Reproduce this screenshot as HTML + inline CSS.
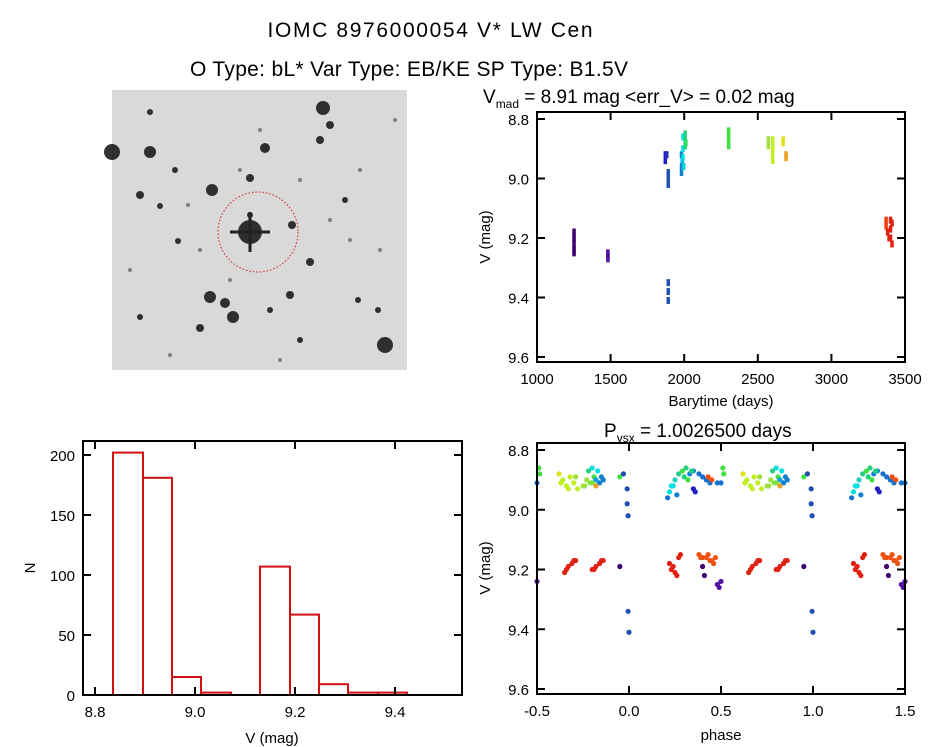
<!DOCTYPE html>
<html><head><meta charset="utf-8"><style>
html,body{margin:0;padding:0;background:#fff;}
svg{display:block;font-family:"Liberation Sans",sans-serif;}
</style></head><body>
<svg id="fig" width="944" height="747" viewBox="0 0 944 747" xmlns="http://www.w3.org/2000/svg">
<text x="430" y="37" font-size="21" text-anchor="middle" textLength="325">IOMC 8976000054    V* LW Cen</text>
<text x="409" y="76" font-size="21" text-anchor="middle" textLength="438">O Type: bL*  Var Type: EB/KE  SP Type: B1.5V</text>
<g id="img">
<rect x="112" y="90" width="295" height="280" fill="#d9d9d9"/>
</g>
<g id="lc"></g>
<g id="hist"></g>
<g id="ph"></g>
</svg>
<script>
const NS="http://www.w3.org/2000/svg";
function mk(p,tag,attrs,txt){const e=document.createElementNS(NS,tag);for(const k in attrs)e.setAttribute(k,attrs[k]);if(txt!==undefined)e.textContent=txt;p.appendChild(e);return e;}

// ---- sky image stars ----
const starX=[323,150,265,212,250,330,175,250,210,225,233,310,320,290,385,140,160,292,140,200,150,178,250,345,358,378,300,270,112,188,200,240,300,330,360,380,130,170,280,350,395,260,230];
const starY=[108,152,148,190,178,125,170,232,297,303,317,262,140,295,345,195,206,225,317,328,112,241,215,200,300,310,340,310,152,205,250,170,180,220,170,250,270,355,360,240,120,130,280];
const starR=[7,6,5,6,4,4,3,12,6,5,6,4,4,4,8,4,3,4,3,4,3,3,3,3,3,3,3,3,8,2,2,2,2,2,2,2,2,2,2,2,2,2,2];
const img=document.getElementById('img');
for(let i=0;i<starX.length;i++){
  const c=mk(img,'circle',{cx:starX[i],cy:starY[i],r:starR[i],fill:'#111',opacity:i<29?0.85:0.45});
  
  
}
mk(img,'line',{x1:230,y1:232,x2:270,y2:232,stroke:'#222','stroke-width':3});
mk(img,'line',{x1:250,y1:212,x2:250,y2:252,stroke:'#222','stroke-width':3});
const circ=mk(img,'circle',{cx:258,cy:232,r:40,fill:'none',stroke:'#d02020','stroke-width':1,'stroke-dasharray':'1.5,2'});



// ---- light curve data ----
const lcT=[1250,1250,1250,1250,1250,1480,1480,1480,1870,1870,1880,1890,1890,1890,1890,1890,1890,1980,1980,1980,1985,1990,1990,1990,1995,2005,2005,2005,2010,2300,2300,2300,2300,2570,2570,2600,2600,2600,2600,2600,2670,2670,2690,2690,3370,3370,3380,3390,3400,3400,3400,3410,3410];
const lcV=[9.18,9.20,9.22,9.24,9.25,9.25,9.26,9.27,8.92,8.94,8.92,8.98,9.00,9.02,9.35,9.38,9.41,8.92,8.96,8.98,8.94,8.86,8.90,8.93,8.96,8.85,8.87,8.89,8.88,8.84,8.86,8.88,8.89,8.87,8.89,8.87,8.89,8.91,8.93,8.94,8.87,8.88,8.92,8.93,9.14,9.16,9.18,9.20,9.14,9.17,9.20,9.22,9.15];
const lcC=['#400070','#400070','#400070','#400070','#400070','#5010a0','#5010a0','#5010a0','#2020c0','#2020c0','#2030c0','#2050b0','#2050b0','#2050b0','#2050b0','#2050b0','#2050b0','#1080d0','#1080d0','#1080d0','#10a0e0','#00e0e0','#00e0e0','#00e0e0','#00d0e0','#20d080','#20d080','#20d080','#30e060','#40e040','#40e040','#40e040','#40e040','#a0e040','#a0e040','#c0f020','#c0f020','#c0f020','#c0f020','#c0f020','#e0e020','#e0e020','#f0a020','#f0a020','#f04010','#f04010','#e02010','#e02010','#e02010','#e02010','#e02010','#e02010','#e02010'];
const lcXTicks=[1000,1500,2000,2500,3000,3500];
const magTicks=[8.8,9.0,9.2,9.4,9.6];

// ---- histogram data ----
const histEdges=[8.836,8.896,8.954,9.012,9.072,9.130,9.190,9.248,9.306,9.366,9.424];
const histCounts=[202,181,15,2,0,107,67,9,2,2];
const histXTicks=[8.8,9.0,9.2,9.4];
const histYTicks=[0,50,100,150,200];

// ---- phase data (phase in [0,1)) ----
const phP=[0.51,0.515,0.50,0.62,0.64,0.66,0.68,0.70,0.72,0.75,0.77,0.79,0.81,0.78,0.80,0.82,0.84,0.86,0.82,0.95,0.97,0.99,0.99,0.995,0.995,1.0,0.21,0.22,0.23,0.25,0.27,0.29,0.31,0.33,0.35,0.38,0.40,0.42,0.44,0.48,0.65,0.67,0.69,0.71,0.80,0.82,0.84,0.86,0.95,0.22,0.24,0.25,0.27,0.28,0.38,0.40,0.42,0.44,0.46,0.40,0.41,0.48,0.49,0.50,0.35,0.36,0.63,0.67,0.71,0.76,0.80,0.83,0.85,0.24,0.26,0.30,0.32,0.34,0.43,0.45,0.66,0.70,0.81,0.85,0.23,0.26,0.39,0.43,0.45,0.47];
const phV=[8.86,8.88,8.91,8.88,8.90,8.92,8.89,8.91,8.93,8.92,8.90,8.91,8.89,8.87,8.86,8.90,8.91,8.90,8.92,8.89,8.88,8.93,8.98,9.02,9.34,9.41,8.96,8.94,8.92,8.90,8.88,8.87,8.86,8.88,8.87,8.88,8.89,8.90,8.91,8.91,9.21,9.19,9.18,9.17,9.20,9.19,9.18,9.17,9.19,9.18,9.19,9.21,9.16,9.15,9.15,9.16,9.16,9.17,9.18,9.19,9.22,9.25,9.26,9.24,8.93,8.94,8.91,8.93,8.89,8.92,8.91,8.87,8.89,8.92,8.95,8.89,8.90,8.87,8.89,8.90,9.20,9.17,9.20,9.17,9.20,9.22,9.16,9.15,9.17,9.16];
const phC=['#40e040','#40e040','#1870d0','#e0e020','#c0f020','#c0f020','#c0f020','#c0f020','#c0f020','#a0e040','#a0e040','#80e040','#40e040','#20d080','#00e0e0','#10a0e0','#1080d0','#1080d0','#f0a020','#40e040','#2050b0','#2050b0','#2050b0','#2050b0','#2050b0','#2050b0','#1870d0','#00e0e0','#00e0e0','#20d0c0','#20d080','#40e040','#20d080','#1080d0','#1080d0','#1870d0','#1870d0','#1870d0','#1870d0','#1870d0','#e02010','#e02010','#e02010','#e02010','#e02010','#e02010','#e02010','#e02010','#400070','#e02010','#e02010','#e02010','#e02010','#e02010','#f05010','#f05010','#f05010','#f05010','#f05010','#400070','#400070','#5010a0','#5010a0','#5010a0','#2020c0','#2020c0','#c0f020','#c0f020','#a0e040','#a0e040','#80e040','#00e0e0','#1080d0','#00e0e0','#1080d0','#20d080','#40e040','#20d080','#f05010','#f05010','#e02010','#e02010','#e02010','#e02010','#e02010','#e02010','#f05010','#f05010','#f05010','#f05010'];
const phXTicks=[-0.5,0,0.5,1.0,1.5];

function axesBox(g,x0,y0,x1,y1,name){
  const r=mk(g,'rect',{x:x0,y:y0,width:x1-x0,height:y1-y0,fill:'none',stroke:'#000','stroke-width':2});
  
  
}
function yTicks(g,ticks,fy,x0,x1,fmt,name){
  ticks.forEach(t=>{const y=fy(t);
    mk(g,'line',{x1:x0,y1:y,x2:x0+8,y2:y,stroke:'#000','stroke-width':2});
    mk(g,'line',{x1:x1,y1:y,x2:x1-8,y2:y,stroke:'#000','stroke-width':2});
    const l=mk(g,'text',{x:x0-8,y:y+6,'font-size':15,'text-anchor':'end'},fmt(t));
    
    
  });
}
function xTicks(g,ticks,fx,y0,y1,fmt,name){
  ticks.forEach(t=>{const x=fx(t);
    mk(g,'line',{x1:x,y1:y1,x2:x,y2:y1-8,stroke:'#000','stroke-width':2});
    mk(g,'line',{x1:x,y1:y0,x2:x,y2:y0+8,stroke:'#000','stroke-width':2});
    const l=mk(g,'text',{x:x,y:y1+22,'font-size':15,'text-anchor':'middle'},fmt(t));
    
    
  });
}

// light curve panel
(function(){
  const g=document.getElementById('lc');
  const X0=537,X1=905,Y0=112,Y1=362;
  const fx=t=>X0+(t-1000)*(X1-X0)/2500;
  const fy=v=>119+(v-8.8)*(357-119)/0.8;
  lcT.forEach((t,i)=>{
    const r=mk(g,'rect',{x:fx(t)-1.5,y:fy(lcV[i])-3.5,width:3.5,height:7,fill:lcC[i]});
    
    
  });
  axesBox(g,X0,Y0,X1,Y1,'lc-axes');
  yTicks(g,magTicks,fy,X0,X1,v=>v.toFixed(1),'lc-y-tick-label');
  xTicks(g,lcXTicks,fx,Y0,Y1,v=>String(v),'lc-x-tick-label');
  const t=mk(g,'text',{x:483,y:103,'font-size':19});
  t.innerHTML='V<tspan font-size="12" dy="5">mad</tspan><tspan dy="-5"> = 8.91 mag &lt;err_V&gt; = 0.02 mag</tspan>';
  
  
  const xl=mk(g,'text',{x:721,y:406,'font-size':15,'text-anchor':'middle'},'Barytime (days)');
  
  
  const yl=mk(g,'text',{x:0,y:0,'font-size':15,'text-anchor':'middle',transform:'translate(490,237) rotate(-90)'},'V (mag)');
  
  
})();

// histogram panel
(function(){
  const g=document.getElementById('hist');
  const X0=83,X1=462,Y0=441,Y1=695;
  const fx=v=>95+(v-8.8)*500;
  const fy=n=>695-n*1.2;
  for(let i=0;i<histCounts.length;i++){
    const x=fx(histEdges[i]),w=fx(histEdges[i+1])-x,h=histCounts[i]*1.2;
    const r=mk(g,'rect',{x:x,y:fy(histCounts[i]),width:w,height:h,fill:'none',stroke:'#d01010','stroke-width':2});
    
    
  }
  axesBox(g,X0,Y0,X1,Y1,'hist-axes');
  yTicks(g,histYTicks,fy,X0,X1,v=>String(v),'hist-y-tick-label');
  xTicks(g,histXTicks,fx,Y0,Y1,v=>v.toFixed(1),'hist-x-tick-label');
  const xl=mk(g,'text',{x:272,y:743,'font-size':15,'text-anchor':'middle'},'V (mag)');
  
  
  const yl=mk(g,'text',{x:0,y:0,'font-size':15,'text-anchor':'middle',transform:'translate(35,568) rotate(-90)'},'N');
  
  
})();

// phase panel
(function(){
  const g=document.getElementById('ph');
  const X0=537,X1=905,Y0=443,Y1=694;
  const fx=p=>X0+(p+0.5)*(X1-X0)/2;
  const fy=v=>450+(v-8.8)*(689-450)/0.8;
  phP.forEach((p,i)=>{
    [-1,0,1].forEach(k=>{const q=p+k; if(q<-0.5||q>1.5)return;
      const c=mk(g,'circle',{cx:fx(q),cy:fy(phV[i]),r:2.6,fill:phC[i]});
      
      
    });
  });
  axesBox(g,X0,Y0,X1,Y1,'phase-axes');
  yTicks(g,magTicks,fy,X0,X1,v=>v.toFixed(1),'phase-y-tick-label');
  xTicks(g,phXTicks,fx,Y0,Y1,v=>v.toFixed(1),'phase-x-tick-label');
  const t=mk(g,'text',{x:604,y:437,'font-size':19});
  t.innerHTML='P<tspan font-size="12" dy="5">vsx</tspan><tspan dy="-5"> = 1.0026500 days</tspan>';
  
  
  const xl=mk(g,'text',{x:721,y:740,'font-size':15,'text-anchor':'middle'},'phase');
  
  
  const yl=mk(g,'text',{x:0,y:0,'font-size':15,'text-anchor':'middle',transform:'translate(490,568) rotate(-90)'},'V (mag)');
  
  
})();
</script>
</body></html>
